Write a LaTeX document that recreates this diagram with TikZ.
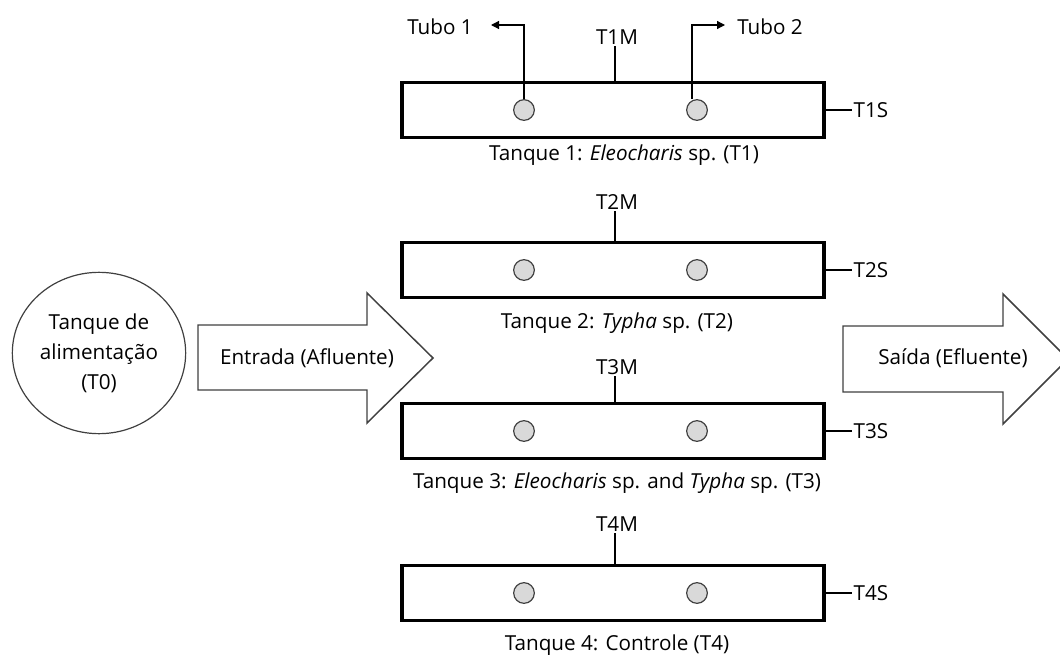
\documentclass[tikz,border=0pt]{standalone}
\usepackage{fontspec}
\setmainfont{Open Sans}
\usepackage{tikz}
\usetikzlibrary{arrows.meta,positioning,shapes.geometric}
\definecolor{bubblegray}{HTML}{D9D9D9}
\definecolor{edgegray}{HTML}{404040}

\tikzset{
    tank/.style={draw=black, line width=2.4pt, minimum width=316.5pt, minimum height=41pt, inner sep=0pt},
    bubble/.style={circle, draw=edgegray, fill=bubblegray, line width=0.9pt, minimum size=15.5pt, inner sep=0pt},
    tag/.style={inner sep=1pt},
    bigarrow/.style={draw=edgegray, line width=1.1pt, fill=white},
}

\begin{document}
\begin{tikzpicture}[x=0.75pt, y=-0.75pt, >=Stealth, font=\fontsize{15.5}{22.5}\selectfont]
    \useasboundingbox (0,0) rectangle (1060,656);

    % Feed tank
    \node[draw=edgegray, line width=0.9pt, ellipse, minimum width=130pt, minimum height=121pt, inner sep=0pt, align=center] (T0) at (99,353)
        {Tanque de\\alimentação\\(T0)};

    % Inlet and outlet arrows
    \draw[bigarrow] (198,325) -- (367,325) -- (367,293) -- (433,358) -- (367,423) -- (367,390) -- (198,390) -- cycle;
    \node[tag] (inlet) at (307,358) {Entrada (Afluente)};
    \draw[bigarrow] (843,326) -- (1003,326) -- (1003,294) -- (1068,359) -- (1003,424) -- (1003,392) -- (843,392) -- cycle;
    \node[tag] (outlet) at (953,358) {Saída (Efluente)};

    % Tanks with sampling points
    \foreach \i/\y/\my in {1/110/37, 2/270/202, 3/431/367, 4/593/524} {
        \node[tank] (T\i) at (613,\y) {};
        \node[bubble] (b\i1) at (524,\y) {};
        \node[bubble] (b\i2) at (697,\y) {};
        \node[tag] (m\i) at (617,\my) {T\i M};
        \draw[line width=0.9pt] (m\i.south -| 615,0) -- (T\i.north -| 615,0);
        \node[tag, anchor=west] (s\i) at (852,\y) {T\i S};
        \draw[line width=0.9pt] (T\i.east) -- (s\i.west);
    }

    % Captions
    \node[tag] (c1) at (624,155) {Tanque 1: \textit{Eleocharis} sp. (T1)};
    \node[tag] (c2) at (617,323) {Tanque 2: \textit{Typha} sp. (T2)};
    \node[tag] (c3) at (617,483) {Tanque 3: \textit{Eleocharis} sp. and \textit{Typha} sp. (T3)};
    \node[tag] (c4) at (617,645) {Tanque 4: Controle (T4)};

    % Sampling tubes
    \coordinate (tip1) at (491,25);
    \coordinate (tip2) at (725,25);
    \node[tag] (tubo1) at (440,27) {Tubo 1};
    \node[tag] (tubo2) at (770,27) {Tubo 2};
    \draw[line width=0.9pt, -{Triangle[length=6pt, width=6pt]}] (b11.north) |- (tip1);
    \draw[line width=0.9pt, -{Triangle[length=6pt, width=6pt]}] ([xshift=-3.75pt]b12.north) |- (tip2);
\end{tikzpicture}
\end{document}
